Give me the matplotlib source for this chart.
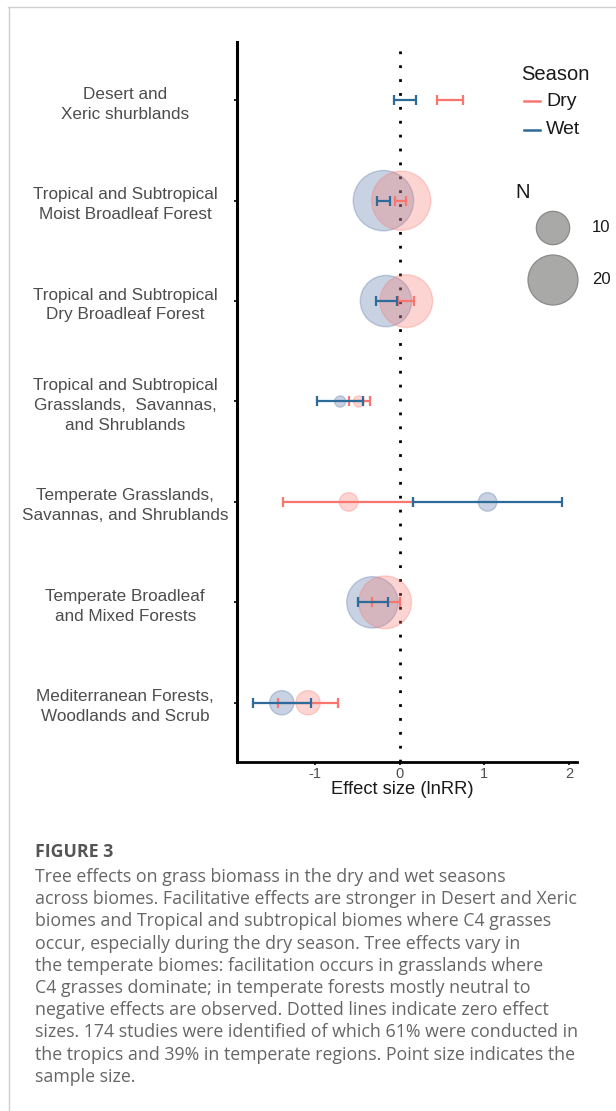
import numpy as np
import matplotlib
matplotlib.use("Agg")
import matplotlib.pyplot as plt
from matplotlib.lines import Line2D

# ---- data -------------------------------------------------------------
biomes = [
    "Desert and\nXeric shurblands",
    "Tropical and Subtropical\nMoist Broadleaf Forest",
    "Tropical and Subtropical\nDry Broadleaf Forest",
    "Tropical and Subtropical\nGrasslands,  Savannas,\nand Shrublands",
    "Temperate Grasslands,\nSavannas, and Shrublands",
    "Temperate Broadleaf\nand Mixed Forests",
    "Mediterranean Forests,\nWoodlands and Scrub",
]
# mean effect sizes (lnRR); NaN where no point is shown
dry_mean = [np.nan, 0.02, 0.08, -0.48, -0.60, -0.17, -1.08]
wet_mean = [np.nan, -0.19, -0.16, -0.70, 1.04, -0.32, -1.39]
# confidence intervals
dry_lo = [0.44, -0.05, -0.02, -0.60, -1.38, -0.33, -1.43]
dry_hi = [0.75, 0.08, 0.17, -0.35, 0.16, 0.00, -0.73]
wet_lo = [-0.07, -0.26, -0.28, -0.98, 0.16, -0.49, -1.73]
wet_hi = [0.19, -0.11, -0.03, -0.43, 1.92, -0.14, -1.05]
# sample sizes
dry_n = [np.nan, 27, 22, 2, 4, 22, 6]
wet_n = [np.nan, 28, 21, 2, 4, 21, 6]
legend_n = [10, 20]
x_ticks = [-1, 0, 1, 2]

caption_title = "FIGURE 3"
caption_lines = [
    "Tree effects on grass biomass in the dry and wet seasons",
    "across biomes. Facilitative effects are stronger in Desert and Xeric",
    "biomes and Tropical and subtropical biomes where C4 grasses",
    "occur, especially during the dry season. Tree effects vary in",
    "the temperate biomes: facilitation occurs in grasslands where",
    "C4 grasses dominate; in temperate forests mostly neutral to",
    "negative effects are observed. Dotted lines indicate zero effect",
    "sizes. 174 studies were identified of which 61% were conducted in",
    "the tropics and 39% in temperate regions. Point size indicates the",
    "sample size.",
]

# ---- styling ----------------------------------------------------------
DRY = "#F8766D"
WET = "#2C6B9A"
DRY_FILL = "#F8766D"
WET_FILL = "#4A6AA0"
W, H = 616, 1111
DPI = 100
plt.rcParams["font.family"] = ["Liberation Sans", "DejaVu Sans"]


def fx(px):
    return px / W


def fy(py):
    return 1 - py / H


def n_to_s(n):
    """Marker area (pt^2) for a sample size; diameter grows with sqrt(n)."""
    n = np.asarray(n, dtype=float)
    d_px = -6.7 + 12.67 * np.sqrt(n)
    d_pt = d_px * 72 / DPI
    return d_pt ** 2


fig = plt.figure(figsize=(W / DPI, H / DPI), dpi=DPI)
fig.patch.set_facecolor("white")

# card outline
fig.add_artist(Line2D([fx(9), fx(9)], [fy(7), 0], color="#cfcfcf", lw=1.0))
fig.add_artist(Line2D([fx(8), 1], [fy(7), fy(7)], color="#cfcfcf", lw=1.0))

ax = fig.add_axes([fx(237), fy(762), fx(577) - fx(237), fy(42) - fy(762)])
ypos = np.arange(1, len(biomes) + 1)

ax.axvline(0, color="black", lw=2.0, linestyle=(0, (1, 4)), zorder=1)

# sample-size circles
ax.scatter(wet_mean, ypos, s=n_to_s(wet_n), color=WET_FILL, alpha=0.3,
           edgecolors=WET_FILL, linewidths=1.0, zorder=2)
ax.scatter(dry_mean, ypos, s=n_to_s(dry_n), color=DRY_FILL, alpha=0.3,
           edgecolors=DRY_FILL, linewidths=1.0, zorder=2)

# confidence intervals
for lo, hi, col in [(dry_lo, dry_hi, DRY), (wet_lo, wet_hi, WET)]:
    lo = np.asarray(lo)
    hi = np.asarray(hi)
    ax.errorbar((lo + hi) / 2, ypos, xerr=(hi - lo) / 2, fmt="none",
                ecolor=col, elinewidth=1.6, capsize=3.3, capthick=1.6,
                zorder=3)

ax.set_xlim(-1.919, 2.096)
ax.set_ylim(7.59, 0.42)
ax.set_xticks(x_ticks)
ax.set_xticklabels([str(t) for t in x_ticks])
ax.set_yticks(ypos)
ax.set_yticklabels(biomes, ha="center", multialignment="center",
                   linespacing=1.4)

for side in ["top", "right"]:
    ax.spines[side].set_visible(False)
ax.spines["left"].set_linewidth(2.2)
ax.spines["bottom"].set_linewidth(2.0)
ax.tick_params(axis="y", length=2.5, width=1.2, pad=78, labelsize=12.3,
               labelcolor="#4d4d4d")
ax.tick_params(axis="x", length=2.5, width=1.2, pad=1, labelsize=10.5,
               labelcolor="#4d4d4d")
ax.set_xlabel("Effect size (lnRR)", fontsize=13.2, color="#1a1a1a")
ax.xaxis.set_label_coords((402 - 237) / (577 - 237), -(790 - 762) / 720,
                          transform=ax.transAxes)
ax.xaxis.label.set_va("center")

# Season legend
fig.text(fx(521), fy(75), "Season", fontsize=14.5, color="#1a1a1a",
         va="center", ha="left")
for label, col, py in [("Dry", DRY, 101), ("Wet", WET, 130)]:
    fig.add_artist(Line2D([fx(524), fx(540)], [fy(py), fy(py)], color=col,
                          lw=1.8))
    fig.text(fx(546), fy(py), label, fontsize=14, color="#1a1a1a",
             va="center", ha="left")

# N legend
fig.text(fx(515), fy(193), "N", fontsize=14.5, color="#1a1a1a",
         va="center", ha="left")
lax = fig.add_axes([fx(515), fy(310), fx(616) - fx(515), fy(205) - fy(310)])
lax.set_xlim(515, 616)
lax.set_ylim(310, 205)
lax.axis("off")
lax.scatter([553, 553], [228, 280], s=n_to_s(legend_n), color="#a9a9a7",
            edgecolors="#8a8a8a", linewidths=0.9, zorder=2, clip_on=False)
for n, py in zip(legend_n, [228, 280]):
    lax.text(592, py, str(n), fontsize=12, color="#1a1a1a",
             va="center", ha="left")

# caption
fig.text(fx(35), fy(852), caption_title, fontsize=12.8, fontweight="bold",
         family=["Open Sans", "DejaVu Sans"], color="#555555",
         va="center", ha="left")
for i, line in enumerate(caption_lines):
    fig.text(fx(35), fy(877 + i * 22.2), line, fontsize=12.8,
             family=["Open Sans", "DejaVu Sans"], color="#666666",
             va="center", ha="left")

fig.savefig("out.png", dpi=DPI)
